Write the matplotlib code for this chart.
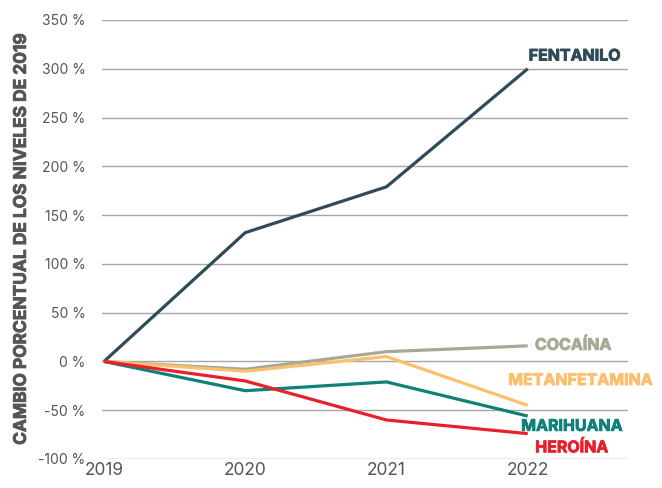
import matplotlib.pyplot as plt
import matplotlib.patheffects as pe

plt.rcParams['font.family'] = ['Inter', 'DejaVu Sans']

years = [2019, 2020, 2021, 2022]
fentanilo = [0, 132, 179, 300]
cocaina = [0, -8, 10, 16]
metanfetamina = [0, -10, 5, -45]
marihuana = [0, -30, -21, -56]
heroina = [0, -20, -60, -74]

series = [
    ('FENTANILO', fentanilo, '#2f4a58', 313),
    ('COCAÍNA', cocaina, '#a9a896', 16.5),
    ('METANFETAMINA', metanfetamina, '#fcbf6c', -19.5),
    ('MARIHUANA', marihuana, '#0e8178', -66.5),
    ('HEROÍNA', heroina, '#e8202b', -88.5),
]
label_x = [2022.33, 2022.32, 2022.37, 2022.31, 2022.31]

fig = plt.figure(figsize=(6.62, 4.88), dpi=100)
ax = fig.add_axes([102 / 662, 1 - 459 / 488, (628 - 102) / 662, (459 - 20) / 488])

for (name, vals, col, ly), lx in zip(series, label_x):
    ax.plot(years, vals, color=col, lw=2.3, solid_capstyle='butt', zorder=3)
    ax.text(lx, ly, name, color=col, fontsize=11.5, fontweight='bold',
            ha='center', va='center',
            path_effects=[pe.withStroke(linewidth=0.6, foreground=col)])

ax.set_xlim(2018.986, 2022.71)
ax.set_ylim(-100, 350)
yt = list(range(-100, 351, 50))
ax.set_yticks(yt)
ax.set_yticklabels([f'{v}\u00a0%' for v in yt])
ax.set_xticks(years)
ax.grid(axis='y', color='#a6a6a6', lw=1)
ax.set_axisbelow(True)
for s in ax.spines.values():
    s.set_visible(False)
ax.tick_params(axis='y', length=0, pad=12, labelsize=10, labelcolor='#555555')
ax.tick_params(axis='x', length=0, pad=2, labelsize=12.5, labelcolor='#555555')
ax.set_ylabel('CAMBIO PORCENTUAL DE LOS NIVELES DE 2019', fontsize=12.5,
              fontweight='bold', color='#555555', labelpad=6,
              path_effects=[pe.withStroke(linewidth=0.6, foreground='#555555')])

fig.savefig('out.png', dpi=100)
